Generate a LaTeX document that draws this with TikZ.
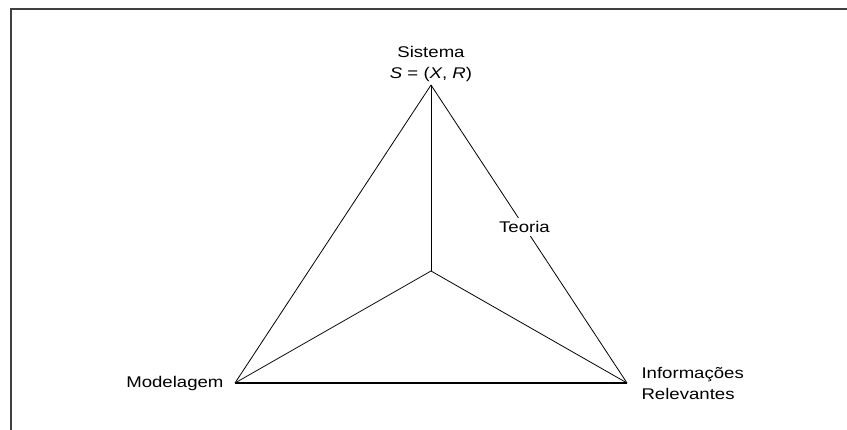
\documentclass[tikz,border=0pt]{standalone}
\usepackage{fontspec}
\setmainfont{Liberation Sans}[FakeStretch=1.2]
\usepackage{tikz}
\usetikzlibrary{positioning}
\definecolor{FrameGray}{HTML}{404040}

\begin{document}
\begin{tikzpicture}[x=1pt,y=-1pt,node distance=6pt, every node/.style={font=\fontsize{15.5}{21}\selectfont},
  edge/.style={line width=0.8pt}, base/.style={line width=1.6pt}, frame/.style={line width=2pt,draw=FrameGray}]
\useasboundingbox (0,0) rectangle (847,430);
\draw[frame] (11,430) -- (11,9.5) -- (847,9.5);
\coordinate (sis) at (431,85);
\coordinate (ctr) at (431,271);
\coordinate (mod) at (235,383);
\coordinate (inf) at (627,383);
\node[above=1pt of sis,align=center,inner sep=2pt] (sislbl) {Sistema\\\textit{S} = (\textit{X}, \textit{R})};
\node[left=8pt of mod] (modlbl) {Modelagem};
\node[right=11pt of inf,align=left] (inflbl) {Informações\\Relevantes};
\draw[edge] (sis) -- (mod);
\draw[edge] (sis) -- node[fill=white,inner sep=3pt,pos=0.477] (teo) {Teoria} (inf);
\draw[edge] (sis) -- (ctr);
\draw[edge] (ctr) -- (mod);
\draw[edge] (ctr) -- (inf);
\draw[base] (mod) -- (inf);
\end{tikzpicture}
\end{document}
